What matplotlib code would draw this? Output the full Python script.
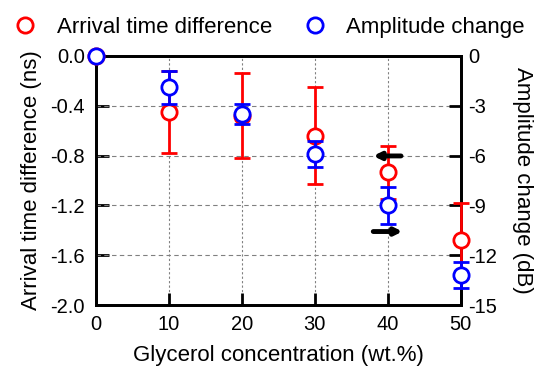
import matplotlib.pyplot as plt
from matplotlib.lines import Line2D

plt.rcParams['font.family'] = ['Liberation Sans', 'DejaVu Sans']

# glycerol concentration (wt.%)
conc = [0, 10, 20, 30, 40, 50]
# arrival time difference (ns) and its error
arrival = [0.0, -0.45, -0.48, -0.64, -0.935, -1.48]
arrival_err = [0.0, 0.33, 0.34, 0.39, 0.21, 0.30]
# amplitude change (dB) and its error
amp = [0.0, -1.9, -3.5, -5.9, -9.0, -13.2]
amp_err = [0.0, 1.0, 0.6, 0.8, 1.1, 0.8]

ns_lim = (-2.0, 0.0)
db_lim = (-15, 0)
k = (db_lim[0] - db_lim[1]) / (ns_lim[0] - ns_lim[1])  # ns -> dB axis units

fig = plt.figure(figsize=(5.39, 3.69), dpi=100)
ax = fig.add_axes([0.178, 0.1734, 0.677, 0.675])
ax2 = ax.twinx()

# both series drawn on ax2 so they sit above the spines
ax2.errorbar(conc, [v * k for v in arrival], yerr=[e * k for e in arrival_err],
             fmt='o', ms=11, mfc='white', mec='red', mew=2, ecolor='red',
             elinewidth=2, capsize=6, capthick=2, clip_on=False, zorder=3)
ax2.errorbar(conc, amp, yerr=amp_err, fmt='o', ms=11, mfc='white', mec='blue',
             mew=2, ecolor='blue', elinewidth=2, capsize=6, capthick=2,
             clip_on=False, zorder=4)
for ln in ax2.lines:
    ln.set_clip_on(False)
for c in ax2.collections:
    c.set_clip_on(False)

ax.set_xlim(0, 50)
ax.set_ylim(*ns_lim)
ax2.set_ylim(*db_lim)
ax.set_xticks(conc)
ax.set_yticks([-2.0, -1.6, -1.2, -0.8, -0.4, 0.0])
ax.set_yticklabels(['-2.0', '-1.6', '-1.2', '-0.8', '-0.4', '0.0'])
ax2.set_yticks([-15, -12, -9, -6, -3, 0])
ax2.set_yticklabels(['-15', '-12', '-9', '-6', '-3', '0'])

ax2.yaxis.grid(True, ls=(0, (4, 3)), color='gray', lw=0.8)
ax2.set_axisbelow(True)
ax.xaxis.grid(True, ls=(0, (2, 2)), color='gray', lw=0.8)
ax.set_axisbelow(True)

for a in (ax, ax2):
    for s in a.spines.values():
        s.set_linewidth(2)
    a.tick_params(direction='in', length=9, width=2, labelsize=14.5)
ax.tick_params(axis='y', pad=8)
ax.tick_params(axis='x', pad=7, top=False)
ax2.tick_params(axis='y', pad=5)

ax.set_xlabel('Glycerol concentration (wt.%)', fontsize=16, labelpad=8)
ax.set_ylabel('Arrival time difference (ns)', fontsize=16, labelpad=6)
ax2.set_ylabel('Amplitude change (dB)', fontsize=16, rotation=270, labelpad=26)

# arrows showing which axis each series belongs to
arrow = dict(arrowstyle='-|>', color='black', lw=3.5, mutation_scale=10,
             shrinkA=0, shrinkB=0)
ax2.annotate('', xy=(38.0, -0.803 * k), xytext=(41.8, -0.803 * k), arrowprops=arrow)
ax2.annotate('', xy=(42.0, -1.41 * k), xytext=(38.0, -1.41 * k), arrowprops=arrow)

handles = [Line2D([], [], ls='none', marker='o', ms=11, mfc='white', mec='red', mew=2),
           Line2D([], [], ls='none', marker='o', ms=11, mfc='white', mec='blue', mew=2)]
fig.legend(handles, ['Arrival time difference', 'Amplitude change'],
           loc='upper center', bbox_to_anchor=(0.5, 1.008), ncol=2, frameon=False,
           fontsize=16, handletextpad=0.9, columnspacing=1.45, handlelength=1.0)

fig.savefig('out.png', dpi=100)
